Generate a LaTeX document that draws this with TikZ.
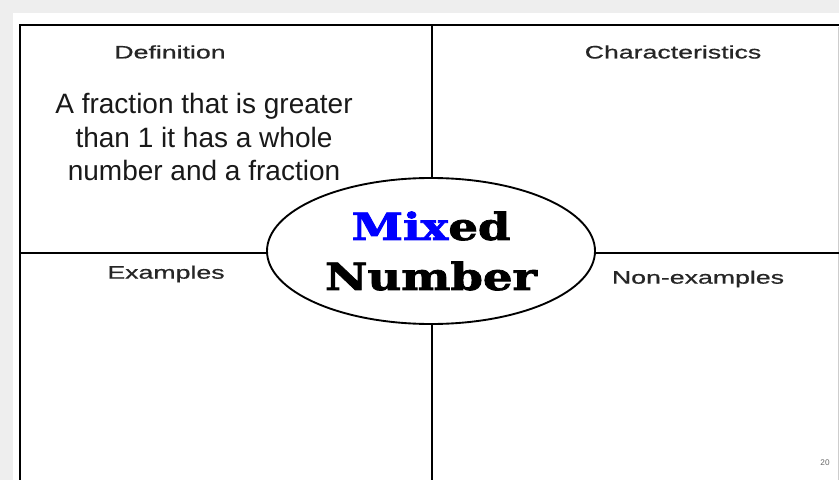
\documentclass[tikz,border=0pt]{standalone}
\usepackage{fontspec}
\setmainfont{Liberation Sans}
\newfontfamily\slabfont{DejaVu Serif Bold}[FakeBold=2]
\newfontfamily\labelfont{Liberation Sans}[FakeBold=0.6]
\usepackage{graphicx}
\usetikzlibrary{shapes.geometric}
\definecolor{pagegray}{RGB}{238,238,238}
\definecolor{mixblue}{RGB}{0,0,255}
\definecolor{edgegray}{RGB}{205,205,205}
\newcommand{\widelabel}[1]{\scalebox{1.48}[1]{#1}}
\newcommand{\widetitle}[1]{\scalebox{1.24}[1]{#1}}
\tikzset{
  frameline/.style={draw=black,line width=1.8pt},
  boxlabel/.style={font=\labelfont\fontsize{15.4}{18}\selectfont,text=black!85,inner sep=0pt},
  deftext/.style={font=\fontsize{23.9}{28.2}\selectfont,align=center,inner sep=0pt,text=black!90},
  titleoval/.style={ellipse,draw=black,line width=1.6pt,fill=white,inner sep=0pt,
    minimum width=9.84cm,minimum height=4.38cm,align=center,
    font=\slabfont\fontsize{32}{42.7}\selectfont},
  pagenum/.style={font=\fontsize{7}{8}\selectfont,text=black!60,inner sep=0pt}
}

\begin{document}
\begin{tikzpicture}[x=0.03cm,y=-0.03cm]
  \useasboundingbox (0,0) rectangle (839,480);
  \fill[pagegray] (0,0) rectangle (839,480);
  \fill[white] (13,13) rectangle (839,480);
  \draw[edgegray,line width=0.8pt] (838,27) -- (838,480);

  % grid of the four boxes
  \begin{scope}
    \clip (13,13) rectangle (839,480);
    \draw[frameline] (20,485) -- (20,25) -- (845,25);
    \draw[frameline] (432,25) -- (432,485);
    \draw[frameline] (20,253) -- (845,253);
  \end{scope}

  \node[boxlabel] (def) at (170,52) {\widelabel{Definition}};
  \node[boxlabel] (char) at (673,52) {\widelabel{Characteristics}};
  \node[boxlabel] (ex) at (166,274) {\widelabel{Examples}};
  \node[boxlabel] (nonex) at (698,279) {\widelabel{Non-examples}};

  \node[deftext] (meaning) at (204,137) {A fraction that is greater\\than 1 it has a whole\\number and a fraction};

  \node[titleoval] (title) at (431,251) {\widetitle{\textcolor{mixblue}{Mix}ed}\\\widetitle{Number}};

  \node[pagenum] (page) at (825,463) {20};
\end{tikzpicture}
\end{document}
